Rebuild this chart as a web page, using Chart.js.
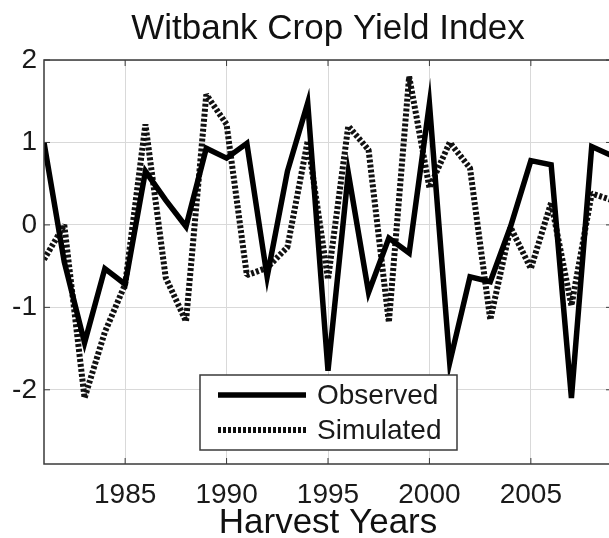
<!DOCTYPE html>
<html>
<head>
<meta charset="utf-8">
<title>Witbank Crop Yield Index</title>
<script src="https://cdn.jsdelivr.net/npm/chart.js@4.4.1/dist/chart.umd.min.js"></script>
<style>
  html, body { margin: 0; padding: 0; background: #fff; overflow: hidden; }
</style>
</head>
<body>
<canvas id="yieldchart" width="642" height="538"></canvas>
<script>
let years = [1981, 1982, 1983, 1984, 1985, 1986, 1987, 1988, 1989, 1990,
  1991, 1992, 1993, 1994, 1995, 1996, 1997, 1998, 1999, 2000,
  2001, 2002, 2003, 2004, 2005, 2006, 2007, 2008, 2009]
let observed = [1.0, -0.45, -1.43, -0.53, -0.72, 0.65, 0.3, -0.02, 0.93, 0.81,
  0.99, -0.63, 0.65, 1.48, -1.77, 0.63, -0.82, -0.16, -0.34, 1.47,
  -1.67, -0.63, -0.69, -0.02, 0.78, 0.73, -2.1, 0.95, 0.84]
let simulated = [-0.42, 0.0, -2.1, -1.3, -0.72, 1.22, -0.64, -1.17, 1.58, 1.22,
  -0.61, -0.52, -0.27, 1.02, -0.66, 1.2, 0.91, -1.18, 1.8, 0.45,
  1.0, 0.69, -1.15, -0.03, -0.53, 0.27, -0.98, 0.38, 0.3]
let serieslabels = ['Observed', 'Simulated']
let xtickvalues = [1985, 1990, 1995, 2000, 2005]
let ytickvalues = [-2, -1, 0, 1, 2]
let titletext = 'Witbank Crop Yield Index'
let xaxistitle = 'Harvest Years'

let fontfamily = '"Liberation Sans", Arial, Helvetica, sans-serif'

function topoints(values) {
  return values.map((v, i) => ({x: years[i], y: v}))
}

// matlab style box, inward ticks and the legend inside the plot
let matlabframe = {
  id: 'matlabframe',
  afterDatasetsDraw(chart) {
    let ctx = chart.ctx
    let area = chart.chartArea
    let xscale = chart.scales.x
    let yscale = chart.scales.y
    ctx.save()
    ctx.strokeStyle = '#3a3a3a'
    ctx.lineWidth = 1.5
    ctx.strokeRect(area.left, area.top, area.right - area.left, area.bottom - area.top)

    ctx.lineWidth = 1
    ctx.beginPath()
    xtickvalues.forEach(v => {
      let px = xscale.getPixelForValue(v)
      ctx.moveTo(px, area.bottom)
      ctx.lineTo(px, area.bottom - 6)
      ctx.moveTo(px, area.top)
      ctx.lineTo(px, area.top + 6)
    })
    ytickvalues.forEach(v => {
      let py = yscale.getPixelForValue(v)
      ctx.moveTo(area.left, py)
      ctx.lineTo(area.left + 6, py)
      ctx.moveTo(area.right, py)
      ctx.lineTo(area.right - 6, py)
    })
    ctx.stroke()

    let lx = 200, ly = 375, lw = 257, lh = 75
    ctx.fillStyle = '#fff'
    ctx.fillRect(lx, ly, lw, lh)
    ctx.strokeStyle = '#3a3a3a'
    ctx.lineWidth = 1.5
    ctx.strokeRect(lx, ly, lw, lh)

    chart.data.datasets.forEach((ds, i) => {
      let rowy = ly + 20 + i * 35
      ctx.save()
      ctx.strokeStyle = ds.borderColor
      ctx.lineWidth = ds.borderWidth
      ctx.lineCap = 'butt'
      ctx.setLineDash(ds.borderDash || [])
      ctx.beginPath()
      ctx.moveTo(lx + 18, rowy)
      ctx.lineTo(lx + 106, rowy)
      ctx.stroke()
      ctx.restore()
      ctx.fillStyle = '#1a1a1a'
      ctx.font = '28px ' + fontfamily
      ctx.textBaseline = 'middle'
      ctx.textAlign = 'left'
      ctx.fillText(ds.label, lx + 117, rowy + 1)
    })
    ctx.restore()
  }
}

let chartposition = document.getElementById('yieldchart')
let yieldchart = new Chart(chartposition, {
  type: 'line',
  data: {
    datasets: [
      {
        label: serieslabels[0],
        data: topoints(observed),
        borderColor: '#000',
        borderWidth: 5.5,
        borderJoinStyle: 'miter',
        pointRadius: 0,
        tension: 0,
        fill: false
      },
      {
        label: serieslabels[1],
        data: topoints(simulated),
        borderColor: '#111',
        borderWidth: 6,
        borderDash: [3, 2],
        borderJoinStyle: 'bevel',
        pointRadius: 0,
        tension: 0,
        fill: false
      }
    ]
  },
  options: {
    responsive: false,
    animation: false,
    devicePixelRatio: 1,
    layout: { padding: { left: 0, right: 30, top: 0, bottom: 0 } },
    plugins: {
      legend: { display: false },
      tooltip: { enabled: false },
      title: {
        display: true,
        text: titletext,
        fullSize: false,
        color: '#111',
        font: { family: fontfamily, size: 35, weight: 'normal', lineHeight: 1.2 },
        padding: { top: 8, bottom: 10 }
      }
    },
    scales: {
      x: {
        type: 'linear',
        min: 1981,
        max: 2009,
        afterBuildTicks: scale => { scale.ticks = xtickvalues.map(v => ({value: v})) },
        afterFit: scale => { scale.height = 74 },
        grid: { color: '#d9d9d9', lineWidth: 1, drawTicks: false },
        border: { display: false },
        ticks: {
          color: '#1a1a1a',
          font: { family: fontfamily, size: 28 },
          padding: 14,
          maxRotation: 0,
          autoSkip: false,
          callback: v => String(v)
        },
        title: {
          display: true,
          text: xaxistitle,
          color: '#111',
          font: { family: fontfamily, size: 35, lineHeight: 1.0 },
          padding: { top: 0, bottom: -3 }
        }
      },
      y: {
        min: -2.9,
        max: 2,
        afterBuildTicks: scale => { scale.ticks = ytickvalues.map(v => ({value: v})) },
        afterFit: scale => { scale.width = 44 },
        grid: { color: '#d9d9d9', lineWidth: 1, drawTicks: false },
        border: { display: false },
        ticks: {
          color: '#1a1a1a',
          font: { family: fontfamily, size: 28 },
          padding: 7,
          autoSkip: false,
          callback: v => String(v)
        }
      }
    }
  },
  plugins: [matlabframe]
})
</script>
</body>
</html>
